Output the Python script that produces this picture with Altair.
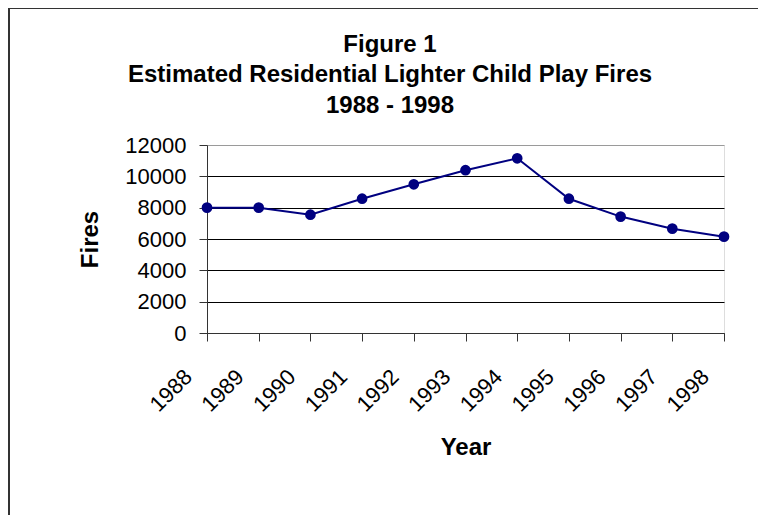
import altair as alt
import pandas as pd

years = ["1988", "1989", "1990", "1991", "1992", "1993", "1994", "1995", "1996", "1997", "1998"]
fires = [8000, 8000, 7550, 8570, 9490, 10390, 11150, 8570, 7430, 6660, 6150]
y_ticks = [0, 2000, 4000, 6000, 8000, 10000, 12000]
title_lines = ["Figure 1", "Estimated Residential Lighter Child Play Fires", "1988 - 1998"]

df = pd.DataFrame({"Year": years, "Fires": fires})

FONT = "Liberation Sans"
NAVY = "#000080"

x_enc = alt.X(
    "Year:O",
    sort=years,
    scale=alt.Scale(type="point", padding=0),
    axis=alt.Axis(
        title="Year",
        labelAngle=-45,
        labelAlign="right",
        labelBaseline="middle",
        labelFontSize=22,
        labelFont=FONT,
        labelColor="black",
        labelPadding=32,
        labelOffset=-19,
        tickSize=8,
        tickColor="#333333",
        domainColor="#333333",
        titleFontSize=24,
        titleFont=FONT,
        titleFontWeight="bold",
        titleColor="black",
        titlePadding=20,
        grid=False,
    ),
)
y_enc = alt.Y(
    "Fires:Q",
    scale=alt.Scale(domain=[0, 12000]),
    axis=alt.Axis(
        title="Fires",
        values=y_ticks,
        format="d",
        labelFontSize=22,
        labelFont=FONT,
        labelColor="black",
        labelPadding=13,
        tickSize=8,
        tickColor="#333333",
        domainColor="#333333",
        titleFontSize=24,
        titleFont=FONT,
        titleFontWeight="bold",
        titleColor="black",
        titlePadding=22,
        grid=True,
        gridColor={"condition": {"test": "datum.value == 12000", "value": "#9a9a9a"}, "value": "black"},
        gridWidth=1,
    ),
)

base = alt.Chart(df)
line = base.mark_line(color=NAVY, strokeWidth=2).encode(x=x_enc, y=y_enc)
pts = base.mark_circle(color=NAVY, size=115, opacity=1).encode(x=x_enc, y=y_enc)

frame = alt.Chart(pd.DataFrame({"a": [0]})).mark_rect(
    fill=None, stroke="#333333", strokeWidth=2
).encode(
    x=alt.value(-198), x2=alt.value(800), y=alt.value(-137), y2=alt.value(500)
)

title_df = pd.DataFrame({"line": title_lines})
title_layers = []
for i, yoff in enumerate([-100, -70, -39]):
    t = alt.Chart(title_df.iloc[[i]]).mark_text(
        font=FONT, fontSize=24, fontWeight="bold", color="black",
        align="center", baseline="middle"
    ).encode(text="line:N", x=alt.value(183), y=alt.value(yoff))
    title_layers.append(t)

chart = alt.layer(frame, line, pts, *title_layers).properties(
    width=517,
    height=188,
    padding={"left": 199, "top": 137, "right": 34, "bottom": 182},
    autosize=alt.AutoSizeParams(type="none"),
).configure_view(stroke="#9a9a9a", strokeWidth=1.5).configure(background="white")

chart.save("out.html", embed_options={"renderer": "svg", "actions": False})
